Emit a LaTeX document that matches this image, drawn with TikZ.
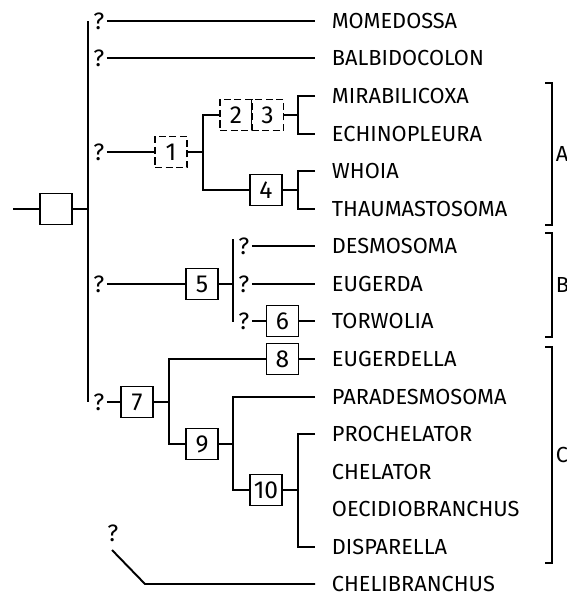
\documentclass[tikz,border=0pt]{standalone}
\usepackage{fontspec}
\setmainfont{Fira Sans}
\usetikzlibrary{positioning}
\tikzset{
  txn/.style={anchor=west,inner xsep=0.32cm,inner ysep=0pt},
  qm/.style={anchor=west,inner xsep=0.03cm,inner ysep=0pt,font=\fontsize{13.5}{15}\selectfont},
  cbox/.style={draw,rectangle,minimum width=0.64cm,minimum height=0.62cm,inner sep=0pt,font=\fontsize{14}{16}\selectfont},
  dbox/.style={cbox,dash pattern=on 4pt off 2pt},
  grp/.style={anchor=west,inner sep=0pt}
}
\begin{document}
\begin{tikzpicture}[x=0.02cm, y=-0.02cm, line width=1.1pt, font=\fontsize{12.4}{14}\selectfont]
  \useasboundingbox (0,0) rectangle (567,596);
  % Taxa
  \foreach \name/\y [count=\i] in {MOMEDOSSA/21, BALBIDOCOLON/58, MIRABILICOXA/96, ECHINOPLEURA/134,
      WHOIA/171, THAUMASTOSOMA/209, DESMOSOMA/246, EUGERDA/284, TORWOLIA/321, EUGERDELLA/359,
      PARADESMOSOMA/397, PROCHELATOR/434, CHELATOR/472, OECIDIOBRANCHUS/509, DISPARELLA/547,
      CHELIBRANCHUS/584}
    \node[txn] (t\i) at (315,\y) {\name};

  % Root and main stem
  \node[cbox] (root) at (56,209) {};
  \coordinate (r0) at (13,209);
  \coordinate (mtop) at (88,21);
  \coordinate (mbot) at (88,402);
  \draw (r0) -- (root.west);
  \draw (root.east) -- (root.east -| mtop);
  \draw (mtop) -- (mbot);
  \foreach \n/\y in {q1/21, q2/58, q3/152, q5/284, q7/402}
    \node[qm] (\n) at (91,\y) {?};
  \draw (q1.east) -- (t1.west);
  \draw (q2.east) -- (t2.west);

  % Group A
  \node[dbox] (b1) at (171,152) {1};
  \node[dbox] (b2) at (236,115) {2};
  \node[dbox] (b3) at (267.5,115) {3};
  \node[cbox] (b4) at (266,190) {4};
  \coordinate (j1) at (203,152);
  \coordinate (k1) at (298,115);
  \coordinate (k2) at (298,190);
  \draw (q3.east) -- (b1.west);
  \draw (b1.east) -- (j1);
  \draw (b2.west) -| (j1) |- (b4.west);
  \draw (b3.east) -- (k1);
  \draw (t3.west) -| (k1) |- (t4.west);
  \draw (b4.east) -- (k2);
  \draw (t5.west) -| (k2) |- (t6.west);

  % Group B
  \node[cbox] (b5) at (202,284) {5};
  \node[cbox] (b6) at (282.5,321) {6};
  \coordinate (j5) at (233,284);
  \coordinate (j5t) at (233,239);
  \coordinate (j5b) at (233,322);
  \foreach \n/\y in {qd/246, qe/284, qt/321}
    \node[qm] (\n) at (236,\y) {?};
  \draw (q5.east) -- (b5.west);
  \draw (b5.east) -- (j5);
  \draw (j5t) -- (j5b);
  \draw (qd.east) -- (t7.west);
  \draw (qe.east) -- (t8.west);
  \draw (qt.east) -- (b6.west);
  \draw (b6.east) -- (t9.west);

  % Group C
  \node[cbox] (b7) at (137,402) {7};
  \node[cbox] (b8) at (282.5,359) {8};
  \node[cbox] (b9) at (202,444) {9};
  \node[cbox] (b10) at (266,490) {10};
  \coordinate (j7) at (169,402);
  \coordinate (j9) at (233,444);
  \coordinate (j10) at (298,490);
  \draw (q7.east) -- (b7.west);
  \draw (b7.east) -- (j7);
  \draw (b8.west) -| (j7) |- (b9.west);
  \draw (b8.east) -- (t10.west);
  \draw (b9.east) -- (j9);
  \draw (t11.west) -| (j9) |- (b10.west);
  \draw (b10.east) -- (j10);
  \draw (t12.west) -| (j10) |- (t15.west);

  % Chelibranchus
  \node[qm] (q16) at (105,533) {?};
  \coordinate (d1) at (112,550);
  \coordinate (d2) at (145,584);
  \draw (d1) -- (d2) -- (t16.west);

  % Brackets
  \foreach \g/\ya/\yb in {A/83/225, B/233/337, C/347/563}{
    \coordinate (\g1) at (545,\ya);
    \coordinate (\g2) at (545,\yb);
    \node[grp] (grp\g) at (555,{(\ya+\yb)/2}) {\g};
    \draw (\g1) -- ++(7,0) |- (\g2);
  }
\end{tikzpicture}
\end{document}
